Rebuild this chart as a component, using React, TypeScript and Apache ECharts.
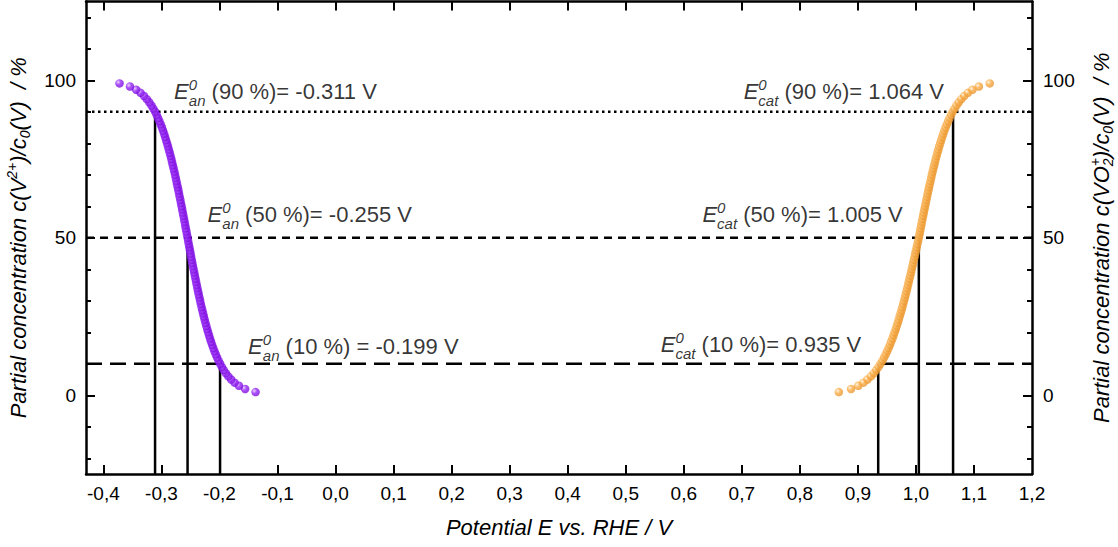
import React, { useEffect, useRef } from "react";
import * as echarts from "echarts";

// ---------- data ----------
// concentration steps (%) shared by both half-cell curves
const concentration = [
  1, 2, 3, 4, 5, 6, 7, 8, 9, 10, 11, 12, 13, 14, 15, 16, 17, 18, 19, 20,
  21, 22, 23, 24, 25, 26, 27, 28, 29, 30, 31, 32, 33, 34, 35, 36, 37, 38, 39, 40,
  41, 42, 43, 44, 45, 46, 47, 48, 49, 50, 51, 52, 53, 54, 55, 56, 57, 58, 59, 60,
  61, 62, 63, 64, 65, 66, 67, 68, 69, 70, 71, 72, 73, 74, 75, 76, 77, 78, 79, 80,
  81, 82, 83, 84, 85, 86, 87, 88, 89, 90, 91, 92, 93, 94, 95, 96, 97, 98, 99,
];

// potential (V vs RHE) of the V2+ (anolyte) curve, one per concentration step
const anodePotential = [
  -0.1378, -0.1558, -0.1664, -0.174, -0.1799, -0.1848, -0.189, -0.1927, -0.196, -0.199,
  -0.2017, -0.2042, -0.2065, -0.2087, -0.2108, -0.2127, -0.2146, -0.2163, -0.218, -0.2196,
  -0.2212, -0.2227, -0.2242, -0.2256, -0.227, -0.2283, -0.2296, -0.2309, -0.2322, -0.2334,
  -0.2346, -0.2358, -0.2369, -0.2381, -0.2392, -0.2403, -0.2414, -0.2425, -0.2436, -0.2447,
  -0.2457, -0.2468, -0.2478, -0.2489, -0.2499, -0.2509, -0.2519, -0.253, -0.254, -0.255,
  -0.256, -0.257, -0.2581, -0.2591, -0.2601, -0.2611, -0.2622, -0.2632, -0.2643, -0.2653,
  -0.2664, -0.2675, -0.2686, -0.2697, -0.2708, -0.2719, -0.2731, -0.2742, -0.2754, -0.2766,
  -0.2778, -0.2791, -0.2804, -0.2817, -0.283, -0.2844, -0.2858, -0.2873, -0.2888, -0.2904,
  -0.292, -0.2937, -0.2954, -0.2973, -0.2992, -0.3013, -0.3035, -0.3058, -0.3083, -0.311,
  -0.314, -0.3173, -0.321, -0.3252, -0.3301, -0.336, -0.3436, -0.3542, -0.3722,
];

// potential (V vs RHE) of the VO2+ (catholyte) curve, one per concentration step
const cathodePotential = [
  0.8672, 0.8882, 0.9007, 0.9097, 0.9167, 0.9225, 0.9274, 0.9317, 0.9356, 0.9391,
  0.9423, 0.9452, 0.948, 0.9505, 0.953, 0.9553, 0.9574, 0.9595, 0.9615, 0.9634,
  0.9653, 0.967, 0.9688, 0.9704, 0.972, 0.9736, 0.9752, 0.9767, 0.9781, 0.9796,
  0.981, 0.9824, 0.9838, 0.9851, 0.9864, 0.9877, 0.989, 0.9903, 0.9916, 0.9928,
  0.9941, 0.9953, 0.9965, 0.9978, 0.999, 1.0002, 1.0014, 1.0026, 1.0038, 1.005,
  1.0061, 1.0071, 1.0082, 1.0093, 1.0103, 1.0114, 1.0125, 1.0136, 1.0147, 1.0158,
  1.0169, 1.018, 1.0192, 1.0203, 1.0215, 1.0226, 1.0238, 1.0251, 1.0263, 1.0275,
  1.0288, 1.0301, 1.0315, 1.0328, 1.0342, 1.0357, 1.0371, 1.0387, 1.0402, 1.0419,
  1.0436, 1.0453, 1.0472, 1.0491, 1.0511, 1.0533, 1.0556, 1.058, 1.0606, 1.0634,
  1.0665, 1.07, 1.0738, 1.0782, 1.0833, 1.0895, 1.0975, 1.1085, 1.1272,
];

// reference levels and the potentials at which they are reached
const markLevels = [90, 50, 10];
const anodeMarkPotential = [-0.311, -0.255, -0.199];
const cathodeMarkPotential = [1.064, 1.005, 0.935];
const anodeMarkText = ["(90 %)= -0.311 V", "(50 %)= -0.255 V", "(10 %) = -0.199 V"];
const cathodeMarkText = ["(90 %)= 1.064 V", "(50 %)= 1.005 V", "(10 %)= 0.935 V"];

// axes
const xMin = -0.43;
const xMax = 1.2;
const yMin = -25;
const yMax = 125;
const xTickValues = [-0.4, -0.3, -0.2, -0.1, 0, 0.1, 0.2, 0.3, 0.4, 0.5, 0.6, 0.7, 0.8, 0.9, 1.0, 1.1];
const xLabelValues = [-0.4, -0.3, -0.2, -0.1, 0, 0.1, 0.2, 0.3, 0.4, 0.5, 0.6, 0.7, 0.8, 0.9, 1.0, 1.1, 1.2];
const yMajorValues = [0, 50, 100];
const yMinorValues = [-20, -10, 10, 20, 30, 40, 60, 70, 80, 90, 110, 120];

// ---------- styles ----------
const FONT = "'Liberation Sans', Arial, Helvetica, sans-serif";
const levelLineTypes: any[] = [[2.5, 3.5], [8, 6], [16, 8]];
const anodeLabelOffsets = [[19, -20.5], [20, -23.5], [28, -17.5]];
const cathodeLabelOffsets = [[-9, -20.5], [-16, -23.5], [-17, -19.5]];

const annotationRich = {
  e: { fontFamily: FONT, fontSize: 22, fontStyle: "italic", lineHeight: 34, color: "#000", align: "left" },
  sup: {
    fontFamily: FONT, fontSize: 15, fontStyle: "italic", lineHeight: 34, height: 20,
    verticalAlign: "top", width: 0, color: "#000", align: "left",
  },
  sub: {
    fontFamily: FONT, fontSize: 15, fontStyle: "italic", lineHeight: 34, height: 16,
    verticalAlign: "bottom", color: "#000", align: "left",
  },
  t: { fontFamily: FONT, fontSize: 22, lineHeight: 34, color: "#000", align: "left" },
};

const titleRich = {
  m: { fontFamily: FONT, fontSize: 22, fontStyle: "italic", lineHeight: 30, color: "#000", align: "left" },
  sup: {
    fontFamily: FONT, fontSize: 14, fontStyle: "italic", lineHeight: 30, height: 18,
    verticalAlign: "top", color: "#000", align: "left",
  },
  sub: {
    fontFamily: FONT, fontSize: 14, fontStyle: "italic", lineHeight: 30, height: 16,
    verticalAlign: "bottom", color: "#000", align: "left",
  },
  sub0: {
    fontFamily: FONT, fontSize: 14, fontStyle: "italic", lineHeight: 30, height: 16,
    verticalAlign: "bottom", width: 0, color: "#000", align: "left",
  },
};

function sphere(light: string, mid: string, dark: string) {
  return new echarts.graphic.RadialGradient(0.35, 0.35, 0.7, [
    { offset: 0, color: light },
    { offset: 0.45, color: mid },
    { offset: 1, color: dark },
  ]);
}

export default function App() {
  const ref = useRef<HTMLDivElement>(null);

  useEffect(() => {
    if (!ref.current) return;
    const chart = echarts.init(ref.current, null, { renderer: "svg" });

    const axisLine = { show: true, onZero: false, lineStyle: { color: "#000", width: 2.5 } };
    const tickStyle = { color: "#000", width: 2 };

    const levelSeries = markLevels.map((lv, i) => ({
      type: "line",
      data: [[xMin, lv], [xMax, lv]],
      symbol: "none",
      silent: true,
      z: 1,
      lineStyle: { color: "#000", width: 2.5, type: levelLineTypes[i] },
    }));

    const verticalSeries = [...anodeMarkPotential, ...cathodeMarkPotential].map((e, i) => ({
      type: "line",
      data: [[e, yMin], [e, markLevels[i % 3]]],
      symbol: "none",
      silent: true,
      z: 1,
      lineStyle: { color: "#000", width: 2.5 },
    }));

    const annotationData = [
      ...anodeMarkPotential.map((e, i) => ({
        value: [e, markLevels[i]],
        label: {
          show: true,
          position: "right",
          distance: 0,
          offset: anodeLabelOffsets[i],
          formatter: () => `{e|E}{sup|0}{sub|an}{t| ${anodeMarkText[i]}}`,
          rich: annotationRich,
        },
      })),
      ...cathodeMarkPotential.map((e, i) => ({
        value: [e, markLevels[i]],
        label: {
          show: true,
          position: "left",
          distance: 0,
          offset: cathodeLabelOffsets[i],
          formatter: () => `{e|E}{sup|0}{sub|cat}{t| ${cathodeMarkText[i]}}`,
          rich: annotationRich,
        },
      })),
    ];

    const minorAxis = (position: string) => ({
      type: "value",
      position,
      min: yMin,
      max: yMax,
      axisLine: { show: false, onZero: false },
      axisTick: { show: true, inside: true, length: 5, customValues: yMinorValues, lineStyle: tickStyle },
      axisLabel: { show: false },
      splitLine: { show: false },
    });

    const option: any = {
      animation: false,
      backgroundColor: "#fff",
      grid: { left: 86, right: 86, top: 1.5, bottom: 73, containLabel: false, outerBoundsMode: "none" },
      xAxis: [
        {
          type: "value",
          position: "bottom",
          min: xMin,
          max: xMax,
          axisLine,
          axisTick: { show: true, inside: true, length: 9, customValues: xTickValues, lineStyle: tickStyle },
          axisLabel: {
            customValues: xLabelValues,
            formatter: (v: number) => v.toFixed(1).replace(".", ","),
            fontFamily: FONT,
            fontSize: 19,
            color: "#000",
            margin: 10,
          },
          splitLine: { show: false },
          name: "Potential E vs. RHE / V",
          nameLocation: "middle",
          nameGap: 42,
          nameTextStyle: { fontFamily: FONT, fontSize: 22, fontStyle: "italic", color: "#000" },
        },
        {
          type: "value",
          position: "top",
          min: xMin,
          max: xMax,
          axisLine,
          axisTick: { show: true, inside: true, length: 9, customValues: xTickValues, lineStyle: tickStyle },
          axisLabel: { show: false },
          splitLine: { show: false },
        },
      ],
      yAxis: [
        {
          type: "value",
          position: "left",
          min: yMin,
          max: yMax,
          axisLine,
          axisTick: { show: true, inside: true, length: 9, customValues: yMajorValues, lineStyle: tickStyle },
          axisLabel: { customValues: yMajorValues, fontFamily: FONT, fontSize: 19, color: "#000", margin: 10 },
          splitLine: { show: false },
          name: "{m|Partial concentration c(V}{sup|2+}{m|)/c}{sub|0}{m|(V)  / %}",
          nameLocation: "middle",
          nameRotate: 90,
          nameGap: 44,
          nameTextStyle: {
            fontFamily: FONT, fontSize: 22, fontStyle: "italic", color: "#000", lineHeight: 30, rich: titleRich,
          },
        },
        {
          type: "value",
          position: "right",
          min: yMin,
          max: yMax,
          axisLine,
          axisTick: { show: true, inside: true, length: 9, customValues: yMajorValues, lineStyle: tickStyle },
          axisLabel: { customValues: yMajorValues, fontFamily: FONT, fontSize: 19, color: "#000", margin: 11 },
          splitLine: { show: false },
          name: "{m|Partial concentration c(VO}{sub0|2}{sup|+}{m|)/c}{sub|0}{m|(V)  / %}",
          nameLocation: "middle",
          nameRotate: 90,
          nameGap: 54,
          nameTextStyle: {
            fontFamily: FONT, fontSize: 22, fontStyle: "italic", color: "#000", lineHeight: 30, rich: titleRich,
          },
        },
        minorAxis("left"),
        minorAxis("right"),
      ],
      series: [
        ...levelSeries,
        ...verticalSeries,
        {
          type: "scatter",
          name: "V2+",
          data: anodePotential.map((e, i) => [e, concentration[i]]),
          symbol: "circle",
          symbolSize: 8.5,
          z: 3,
          itemStyle: { color: sphere("#e6c6ff", "#9322f7", "#7a0ad8") },
        },
        {
          type: "scatter",
          name: "VO2+",
          data: cathodePotential.map((e, i) => [e, concentration[i]]),
          symbol: "circle",
          symbolSize: 8.5,
          z: 3,
          itemStyle: { color: sphere("#fff0d8", "#f8ab45", "#e8952f") },
        },
        {
          type: "scatter",
          name: "annotations",
          data: annotationData,
          symbol: "circle",
          symbolSize: 0.1,
          silent: true,
          z: 5,
          itemStyle: { color: "rgba(0,0,0,0)" },
        },
      ],
    };

    chart.setOption(option);
    return () => chart.dispose();
  }, []);

  return (
    <div
      ref={ref}
      style={{ position: "absolute", left: 0, top: 0, width: 1118, height: 547, background: "#fff" }}
    />
  );
}
